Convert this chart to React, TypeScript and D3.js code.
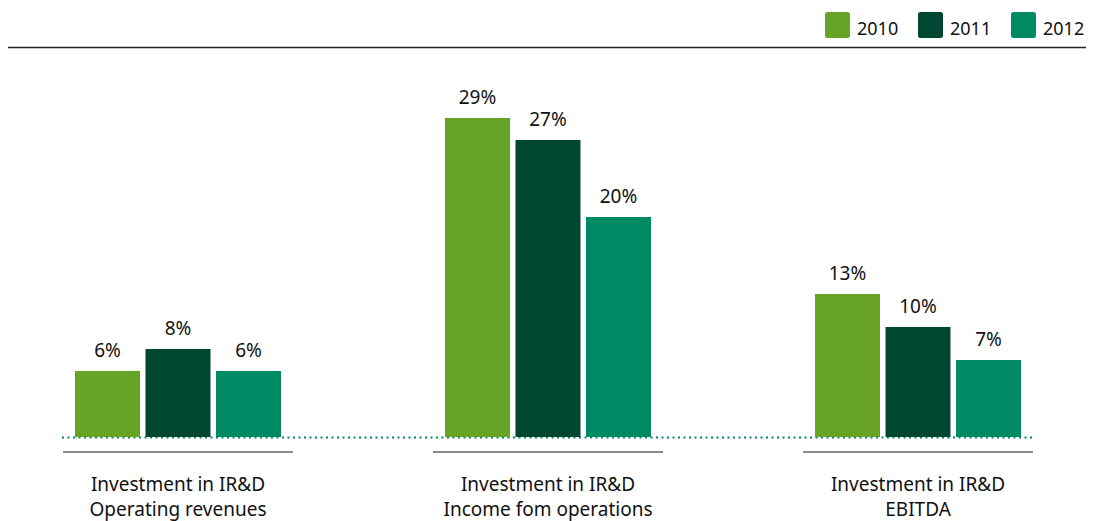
import React from "react";
import * as d3 from "d3";

const categories = ["Investment in IR&D\nOperating revenues", "Investment in IR&D\nIncome fom operations", "Investment in IR&D\nEBITDA"];
const years = ["2010", "2011", "2012"];
const v2010 = [6, 29, 13];
const v2011 = [8, 27, 10];
const v2012 = [6, 20, 7];
const colors = ["#67a426", "#014631", "#008a63"];

const W = 1100, H = 521;
const FONT = "'Noto Sans', sans-serif";

export default function App() {
  const series = [v2010, v2011, v2012];
  const baseY = 437;
  const y = d3.scaleLinear().domain([0, 29]).range([baseY, 118]);
  const x0 = d3.scaleBand().domain(categories).range([-7, 1103]).paddingInner(0).paddingOuter(0);
  const groupW = 206;
  const x1 = d3.scaleBand().domain(years).range([0, groupW]).paddingInner(0.078);
  const cx = (c: string) => (x0(c) as number) + x0.bandwidth() / 2;

  return (
    <svg width={W} height={H} style={{ position: "absolute", left: 0, top: 0 }}>
      <line x1={8} x2={1086} y1={47.5} y2={47.5} stroke="#222" strokeWidth={1.5} />
      {years.map((yr, i) => (
        <g key={yr} transform={`translate(${825 + i * 93},12)`}>
          <rect width={25} height={26} rx={2.5} fill={colors[i]} />
          <text x={32} y={23} fontFamily={FONT} fontSize={18} fill="#111">{yr}</text>
        </g>
      ))}
      <line x1={62} x2={1033} y1={437.5} y2={437.5} stroke="#008a63" strokeWidth={2.2} strokeDasharray="2 3.5" />
      {categories.map((c, ci) => {
        const gx = cx(c) - groupW / 2;
        const lines = c.split("\n");
        return (
          <g key={c}>
            {years.map((yr, si) => {
              const v = series[si][ci];
              const bx = gx + (x1(yr) as number);
              return (
                <g key={yr}>
                  <rect x={bx} y={y(v)} width={x1.bandwidth()} height={baseY - y(v)} fill={colors[si]} />
                  <text x={bx + x1.bandwidth() / 2} y={y(v) - 14} textAnchor="middle" fontFamily={FONT} fontSize={19} fill="#111">{v}%</text>
                </g>
              );
            })}
            <line x1={cx(c) - 115} x2={cx(c) + 115} y1={452} y2={452} stroke="#666" strokeWidth={1.5} />
            {lines.map((l, li) => (
              <text key={li} x={cx(c)} y={491 + li * 25} textAnchor="middle" fontFamily={FONT} fontSize={19} fill="#111">{l}</text>
            ))}
          </g>
        );
      })}
    </svg>
  );
}
